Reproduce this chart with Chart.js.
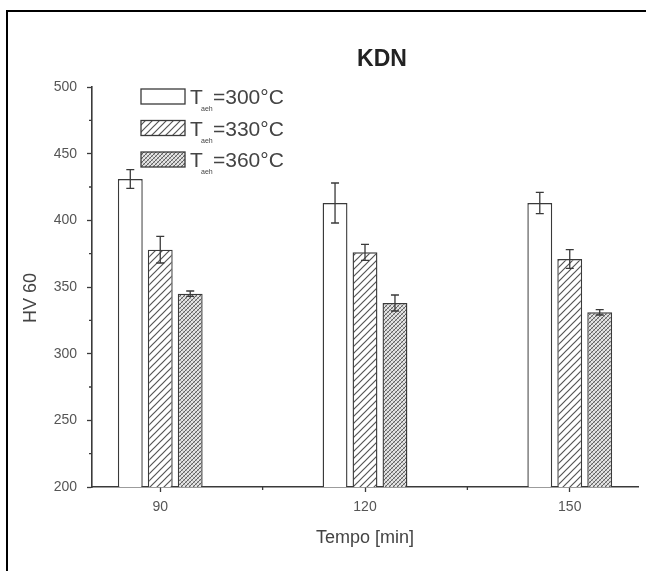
<!DOCTYPE html>
<html><head><meta charset="utf-8">
<script src="https://cdn.jsdelivr.net/npm/chart.js@4.4.1/dist/chart.umd.min.js"></script>
<style>
html,body{margin:0;padding:0;background:#fff;}
#wrap{position:relative;width:646px;height:571px;overflow:hidden;}
#frame{position:absolute;left:6px;top:10px;right:-4px;bottom:-4px;border-left:2px solid #000;border-top:2px solid #000;pointer-events:none;}
</style></head><body>
<div id="wrap"><canvas id="c" width="646" height="571"></canvas><div id="frame"></div></div>
<script>
const chartTitle = 'KDN';
const times = [90, 120, 150];
const tempLabels = ['=300°C', '=330°C', '=360°C'];
const legendSymbol = 'T';
const legendSub = 'aeh';
const hv300 = [431, 413, 413];
const hv330 = [378, 376, 371];
const hv360 = [345, 338, 331];
const err300 = [7, 15, 8];
const err330 = [10, 6, 7];
const err360 = [2, 6, 2];
const xTicks = [90, 120, 150];
const xMinorTicks = [105, 135];
const yTicks = [200, 250, 300, 350, 400, 450, 500];
const yMinorTicks = [225, 275, 325, 375, 425, 475];
const xAxisTitle = 'Tempo [min]';
const yAxisTitle = 'HV 60';

const FONT = '"Liberation Sans", Arial, sans-serif';
const INK = '#3a3a3a';

function makePattern(kind) {
  const c = document.createElement('canvas');
  const s = kind === 'hatch' ? 7 : 4;
  c.width = s; c.height = s;
  const g = c.getContext('2d');
  g.fillStyle = kind === 'hatch' ? '#ffffff' : '#e4e4e4';
  g.fillRect(0, 0, s, s);
  g.lineWidth = kind === 'hatch' ? 1.2 : 1;
  if (kind === 'dense') {
    g.strokeStyle = '#b0b0b0';
    g.beginPath();
    g.moveTo(0, 0); g.lineTo(s, s);
    g.moveTo(-1, s - 1); g.lineTo(1, s + 1);
    g.moveTo(s - 1, -1); g.lineTo(s + 1, 1);
    g.stroke();
  }
  g.strokeStyle = kind === 'hatch' ? '#555' : '#606060';
  g.beginPath();
  g.moveTo(0, s); g.lineTo(s, 0);
  g.moveTo(-1, 1); g.lineTo(1, -1);
  g.moveTo(s - 1, s + 1); g.lineTo(s + 1, s - 1);
  g.stroke();
  const ctx = document.getElementById('c').getContext('2d');
  return ctx.createPattern(c, 'repeat');
}

const series = [hv300, hv330, hv360];
const errors = [err300, err330, err360];
const fills = ['#ffffff', makePattern('hatch'), makePattern('dense')];

const decor = {
  id: 'decor',
  afterDatasetsDraw(chart) {
    const ctx = chart.ctx;
    const ys = chart.scales.y;
    ctx.save();
    ctx.strokeStyle = INK;
    ctx.lineWidth = 1.3;
    chart.data.datasets.forEach((ds, di) => {
      const meta = chart.getDatasetMeta(di);
      meta.data.forEach((bar, i) => {
        const v = ds.data[i].y, e = errors[di][i];
        const yt = ys.getPixelForValue(v + e), yb = ys.getPixelForValue(v - e);
        const x = bar.x;
        ctx.beginPath();
        ctx.moveTo(x, yt); ctx.lineTo(x, yb);
        ctx.moveTo(x - 4, yt); ctx.lineTo(x + 4, yt);
        ctx.moveTo(x - 4, yb); ctx.lineTo(x + 4, yb);
        ctx.stroke();
      });
    });
    ctx.restore();
  },
  afterDraw(chart) {
    const ctx = chart.ctx;
    const xs = chart.scales.x, ys = chart.scales.y;
    const area = chart.chartArea;
    ctx.save();
    // minor ticks
    ctx.strokeStyle = INK;
    ctx.lineWidth = 1.3;
    ctx.beginPath();
    xMinorTicks.forEach(v => {
      const px = xs.getPixelForValue(v);
      ctx.moveTo(px, area.bottom); ctx.lineTo(px, area.bottom + 3);
    });
    yMinorTicks.forEach(v => {
      const py = ys.getPixelForValue(v);
      ctx.moveTo(area.left, py); ctx.lineTo(area.left - 3, py);
    });
    ctx.stroke();
    // title
    ctx.fillStyle = '#222';
    ctx.font = 'bold 23px ' + FONT;
    ctx.textAlign = 'center';
    ctx.textBaseline = 'middle';
    ctx.fillText(chartTitle, 382, 60);
    // axis titles
    ctx.fillStyle = '#444';
    ctx.font = '18px ' + FONT;
    ctx.fillText(xAxisTitle, (area.left + area.right) / 2, 538);
    ctx.save();
    ctx.translate(31, 298);
    ctx.rotate(-Math.PI / 2);
    ctx.fillText(yAxisTitle, 0, 0);
    ctx.restore();
    // legend
    chart.data.datasets.forEach((ds, i) => {
      const bx = 141, by = 89 + i * 31.5, bw = 44, bh = 15;
      ctx.fillStyle = ds.backgroundColor;
      ctx.fillRect(bx, by, bw, bh);
      ctx.strokeStyle = INK;
      ctx.lineWidth = 1.3;
      ctx.strokeRect(bx, by, bw, bh);
      ctx.fillStyle = '#444';
      ctx.textAlign = 'left';
      ctx.textBaseline = 'alphabetic';
      ctx.font = '21px ' + FONT;
      ctx.fillText(legendSymbol, 190, by + bh);
      ctx.font = '7px ' + FONT;
      ctx.fillText(legendSub, 201, by + bh + 7);
      ctx.font = '21px ' + FONT;
      ctx.fillText(tempLabels[i], 213, by + bh);
    });
    ctx.restore();
  }
};

new Chart(document.getElementById('c'), {
  type: 'bar',
  data: {
    datasets: series.map((s, i) => ({
      label: legendSymbol + legendSub + tempLabels[i],
      data: times.map((t, k) => ({ x: t, y: s[k] })),
      backgroundColor: fills[i],
      borderColor: INK,
      borderWidth: 1.4,
      categoryPercentage: 90 / 205,
      barPercentage: 0.83
    }))
  },
  options: {
    responsive: false,
    animation: false,
    devicePixelRatio: 1,
    layout: { padding: { top: 87, right: 8, left: 0, bottom: 0 } },
    plugins: { legend: { display: false }, tooltip: { enabled: false }, title: { display: false } },
    scales: {
      x: {
        type: 'linear', min: 80, max: 160, offset: false,
        afterBuildTicks: sc => { sc.ticks = xTicks.map(v => ({ value: v })); },
        afterFit: sc => { sc.height = 84; },
        grid: { drawOnChartArea: false, drawTicks: true, tickLength: 5, tickColor: INK, tickWidth: 1.3, offset: false },
        border: { display: true, color: INK, width: 1.6 },
        ticks: { color: '#555', font: { family: FONT, size: 14 }, padding: 7, maxRotation: 0 }
      },
      y: {
        min: 200, max: 500,
        afterBuildTicks: sc => { sc.ticks = yTicks.map(v => ({ value: v })); },
        afterFit: sc => { sc.width = 92; },
        grid: { drawOnChartArea: false, drawTicks: true, tickLength: 5, tickColor: INK, tickWidth: 1.3 },
        border: { display: true, color: INK, width: 1.6 },
        ticks: { color: '#555', font: { family: FONT, size: 14 }, padding: 10 }
      }
    }
  },
  plugins: [decor]
});
</script>
</body></html>
